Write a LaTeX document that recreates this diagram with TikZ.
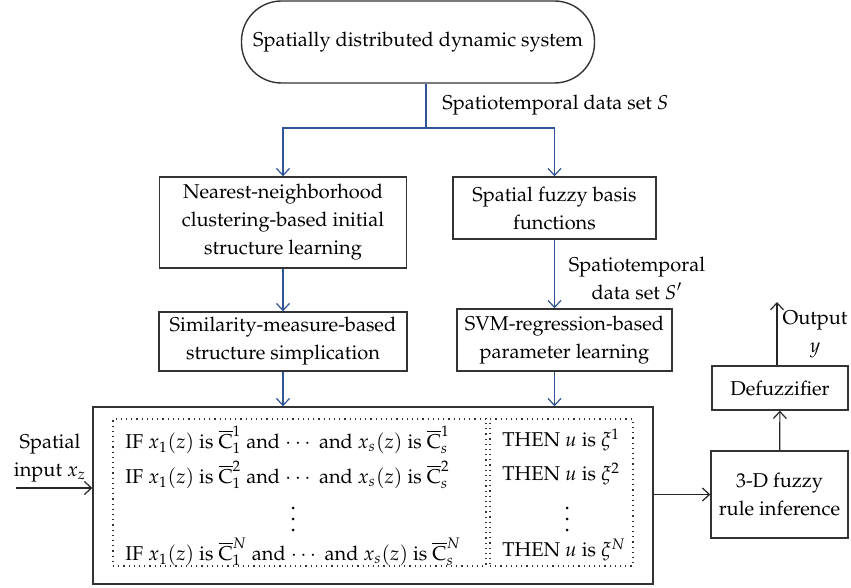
\documentclass[tikz,border=0pt]{standalone}
\usepackage{amsmath}
\usepackage{amssymb}
\usepackage[T1]{fontenc}
\usepackage{mathpazo}
\usepackage{tikz}
\usetikzlibrary{arrows.meta}
\definecolor{flowblue}{RGB}{47,85,151}

\begin{document}
\begin{tikzpicture}[x=0.5pt,y=-0.5pt,
		every node/.style={font=\fontsize{10}{14}\selectfont, inner sep=0pt},
		block/.style={draw=black!80, line width=0.7pt, align=center},
		dotbox/.style={draw=black!80, dotted, line width=0.6pt},
		flow/.style={draw=flowblue, line width=0.6pt},
		sig/.style={draw=black!85, line width=0.6pt},
		rule/.style={anchor=west},
		>={Straight Barb[length=3.5pt,width=6.5pt]}]
		\useasboundingbox (0,0) rectangle (851,588);

		% top system
		\node[block, rounded corners=20pt, minimum width=176.5pt, minimum height=41pt] (sys) at (418,42) {Spatially distributed dynamic system};

		% learning blocks
		\node[block, minimum width=123.5pt, minimum height=45.5pt] (nn) at (283,222.5) {Nearest-neighborhood\\clustering-based initial\\structure learning};
		\node[block, minimum width=101.5pt, minimum height=31pt] (sfb) at (554.5,208) {Spatial fuzzy basis\\functions};
		\node[block, minimum width=124pt, minimum height=29.5pt] (sim) at (283,341.5) {Similarity-measure-based\\structure simplication};
		\node[block, minimum width=107.5pt, minimum height=31pt] (svm) at (564.5,340) {SVM-regression-based\\parameter learning};

		% rule base
		\node[block, minimum width=280pt, minimum height=88.5pt] (rules) at (373,495.5) {};
		\node[dotbox, minimum width=186.5pt, minimum height=73.5pt] (ifbox) at (299.5,492.5) {};
		\node[dotbox, minimum width=71.5pt, minimum height=73.5pt] (thenbox) at (561.5,492.5) {};

		\node[rule] (if1) at (125,440) {IF $x_1(z)$ is $\overline{\mathrm{C}}_1^1$ and $\cdots$ and $x_s(z)$ is $\overline{\mathrm{C}}_s^1$};
		\node[rule] (if2) at (125,475) {IF $x_1(z)$ is $\overline{\mathrm{C}}_1^2$ and $\cdots$ and $x_s(z)$ is $\overline{\mathrm{C}}_s^2$};
		\node[rule] (ifn) at (125,552) {IF $x_1(z)$ is $\overline{\mathrm{C}}_1^N$ and $\cdots$ and $x_s(z)$ is $\overline{\mathrm{C}}_s^N$};

		\node[rule] (th1) at (502,440) {THEN $u$ is $\xi^1$};
		\node[rule] (th2) at (502,474) {THEN $u$ is $\xi^2$};
		\node[rule] (thn) at (502,550) {THEN $u$ is $\xi^N$};

		% vertical dots
		\foreach \dx in {293,567}
			\foreach \dy in {508,519,530}
				\fill (\dx,\dy) circle (0.75pt);

		% inference and output
		\node[block, minimum width=68.5pt, minimum height=43.5pt] (inf) at (779.5,494.5) {3-D fuzzy\\rule inference};
		\node[block, minimum width=68pt, minimum height=22pt] (defz) at (780,388) {Defuzzifier};

		% labels
		\node[anchor=west] (lblS) at (442,105) {Spatiotemporal data set $S$};
		\node[align=center] (lblSp) at (637,278) {Spatiotemporal\\data set $S'$};
		\node[align=center] (lblin) at (50,458) {Spatial\\input $x_z$};
		\node[align=center] (lblout) at (815,334) {Output\\$y$};

		\coordinate (br) at (426,128);
		\coordinate (inp) at (16,488);
		\coordinate (outp) at (777,302);

		% blue flow
		\path[flow] (sys.south -| br) -- (br);
		\path[flow, ->] (br) -| (nn.north);
		\path[flow, ->] (br) -| (sfb.north);
		\path[flow, ->] (nn) -- (sim);
		\path[flow, ->] (sfb.south) -- (svm.north -| sfb.south);
		\path[flow, ->] (sim) -- (sim |- rules.north);
		\path[flow, ->] (svm.south -| sfb.south) -- (rules.north -| sfb.south);

		% signals
		\path[sig, ->] (inp) -- (inp -| rules.west);
		\path[sig, ->] (rules.east |- inf) -- (inf.west);
		\path[sig, ->] (inf) -- (defz);
		\path[sig, ->] (defz.north -| outp) -- (outp);
\end{tikzpicture}
\end{document}
